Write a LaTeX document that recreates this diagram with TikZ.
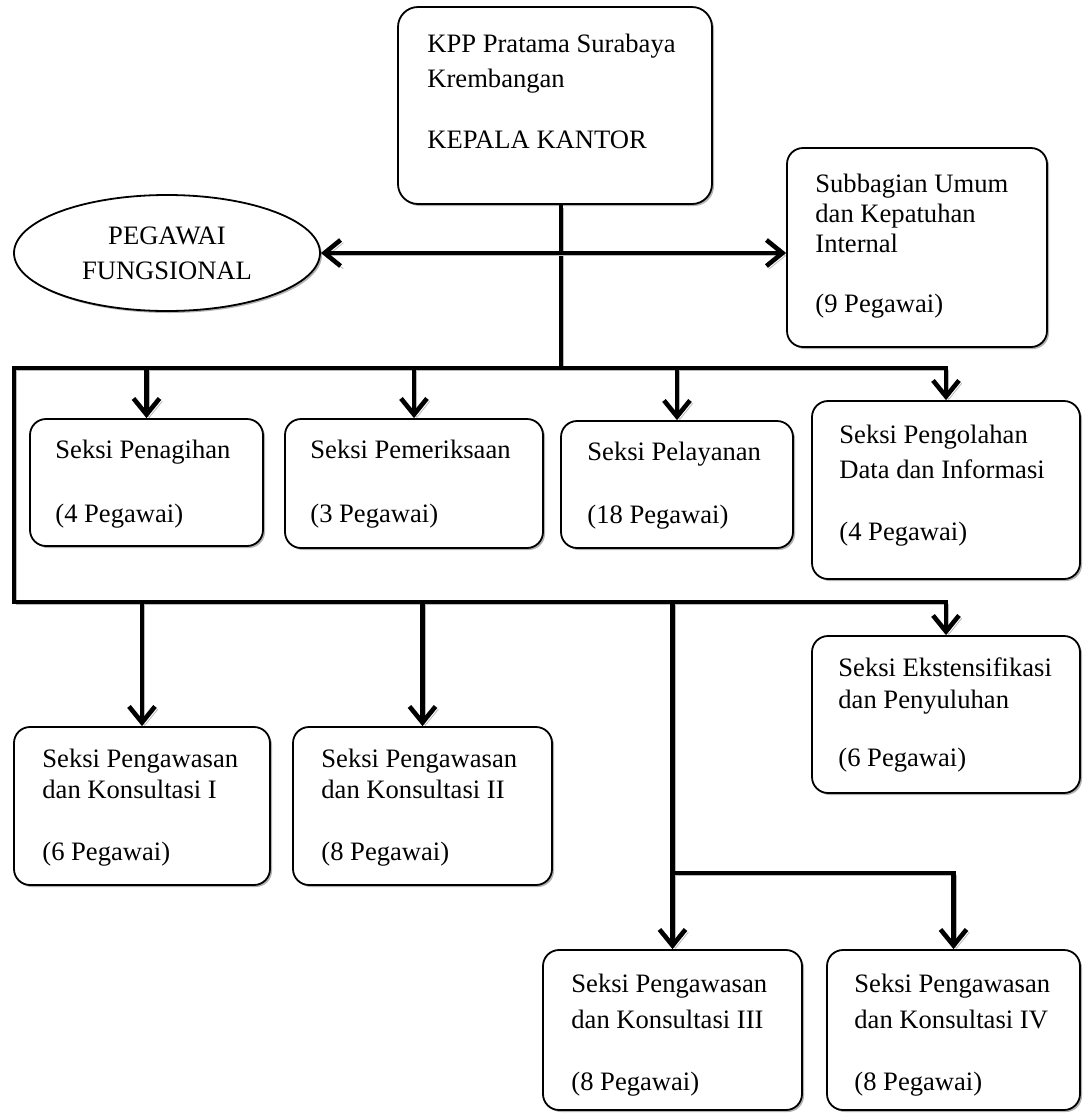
\documentclass[tikz,border=0pt]{standalone}
\usepackage{fontspec}
\setmainfont{Liberation Serif}
\usetikzlibrary{shapes.geometric,arrows.meta,shadows,fit}

\begin{document}
\begin{tikzpicture}[x=0.5pt,y=-0.5pt,
  font=\fontsize{13.3}{15.5}\selectfont,
  box/.style={draw,line width=0.9pt,rounded corners=8pt,fill=white,inner sep=0pt,
    drop shadow={shadow xshift=1pt,shadow yshift=-1pt,fill=gray!60,opacity=1}},
  txt/.style={anchor=north west,align=left,inner sep=0pt},
  link/.style={line width=2.3pt,
    preaction={draw=gray!55,transform canvas={shift={(1.4pt,-1.4pt)}}}},
  tip/.tip={Straight Barb[length=8pt,width=13pt]},
  arr/.style={link,-tip}]
\useasboundingbox (0,0) rectangle (1087,1115);

% kepala kantor dan staf
\node[box,rounded corners=10pt,fit={(398,7) (712,204)}] (kk) {};
\node[txt] (kk-t) at (427,34) {KPP Pratama Surabaya\\[2pt]Krembangan\\[15pt]KEPALA KANTOR};
\node[draw,line width=0.9pt,ellipse,fill=white,minimum width=153pt,minimum height=58pt,
  align=center,inner sep=0pt,
  drop shadow={shadow xshift=1pt,shadow yshift=-1pt,fill=gray!60,opacity=1}]
  (fung) at (167,253) {PEGAWAI\\[2pt]FUNGSIONAL};
\node[box,fit={(787,148) (1047,347)}] (sub) {};
\node[txt] (sub-t) at (815,174) {Subbagian Umum\\[-0.5pt]dan Kepatuhan\\[-0.5pt]Internal\\[14.5pt](9 Pegawai)};

% seksi baris pertama
\node[box,fit={(30,419) (263,546)}] (pen) {};
\node[txt] (pen-t) at (55,440) {Seksi Penagihan\\[16.5pt](4 Pegawai)};
\node[box,fit={(285,419) (543,548)}] (pem) {};
\node[txt] (pem-t) at (310,440) {Seksi Pemeriksaan\\[16.5pt](3 Pegawai)};
\node[box,fit={(561,421) (793,548)}] (pel) {};
\node[txt] (pel-t) at (587,442) {Seksi Pelayanan\\[16pt](18 Pegawai)};
\node[box,fit={(812,401) (1080,579)}] (peng) {};
\node[txt] (peng-t) at (839,425) {Seksi Pengolahan\\[2pt]Data dan Informasi\\[15.5pt](4 Pegawai)};

% seksi baris kedua
\node[box,fit={(812,636) (1080,793)}] (ekst) {};
\node[txt] (ekst-t) at (838,657) {Seksi Ekstensifikasi\\[0.5pt]dan Penyuluhan\\[13.5pt](6 Pegawai)};
\node[box,fit={(14,727) (270,885)}] (pki) {};
\node[txt] (pki-t) at (42,749) {Seksi Pengawasan\\dan Konsultasi I\\[15.5pt](6 Pegawai)};
\node[box,fit={(293,727) (552,885)}] (pkii) {};
\node[txt] (pkii-t) at (321,749) {Seksi Pengawasan\\dan Konsultasi II\\[15.5pt](8 Pegawai)};

% seksi baris ketiga
\node[box,fit={(543,950) (802,1110)}] (pkiii) {};
\node[txt] (pkiii-t) at (571,974) {Seksi Pengawasan\\[2.5pt]dan Konsultasi III\\[15.5pt](8 Pegawai)};
\node[box,fit={(827,950) (1080,1110)}] (pkiv) {};
\node[txt] (pkiv-t) at (854,974) {Seksi Pengawasan\\[2.5pt]dan Konsultasi IV\\[15.5pt](8 Pegawai)};

% garis
\coordinate (hub) at (561,368);
\coordinate (tl) at (14,368);
\coordinate (bl) at (14,602);
\coordinate (fork) at (672,873);
\draw[link] (kk.south -| hub) -- (hub);
\draw[link,tip-tip] (fung.east) -- (fung.east -| sub.west);
\draw[arr] (bl) -- (tl) -- (tl -| peng.north) -- (peng.north);
\draw[arr] (tl) -- (bl) -- (bl -| ekst.north) -- (ekst.north);
\foreach \n in {pen,pem,pel}
  \draw[arr] (tl -| \n.north) -- (\n.north);
\foreach \n in {pki,pkii,pkiii}
  \draw[arr] (bl -| \n.north) -- (\n.north);
\draw[arr] (fork -| pkiii.north) -- (fork -| pkiv.north) -- (pkiv.north);
\end{tikzpicture}
\end{document}
